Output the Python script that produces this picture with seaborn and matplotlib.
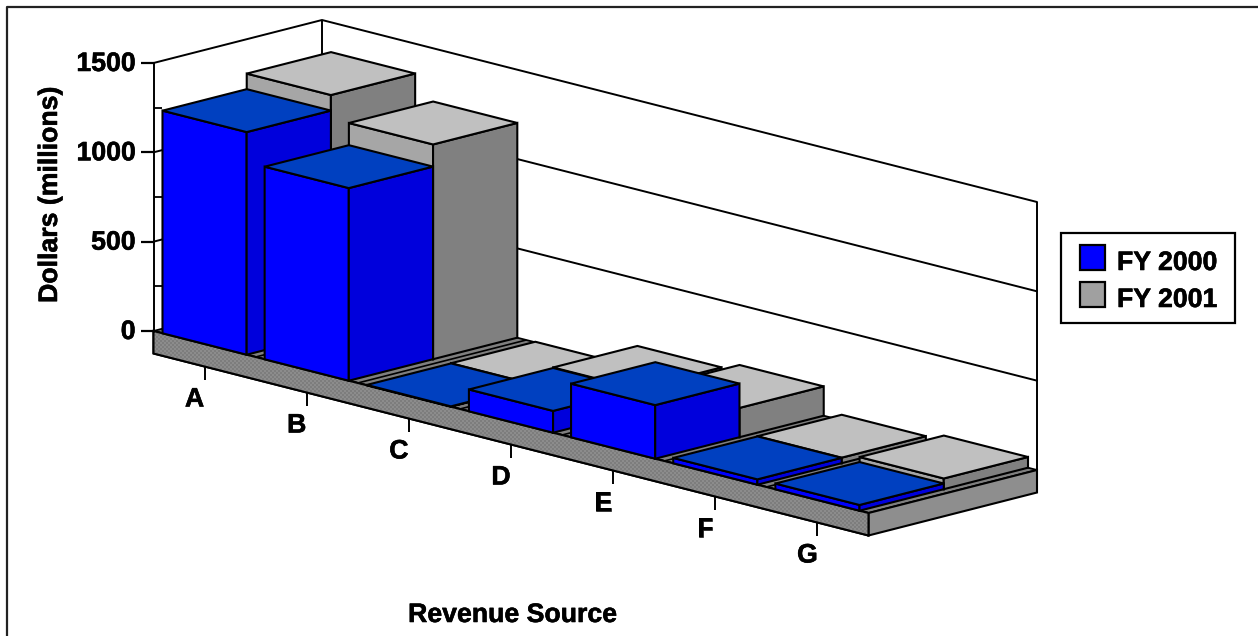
import matplotlib
matplotlib.use("Agg")
import matplotlib.pyplot as plt
from matplotlib.patches import Polygon
import matplotlib.patheffects as pe
import numpy as np
import pandas as pd
import seaborn as sns

categories = ["A", "B", "C", "D", "E", "F", "G"]
fy2000 = [1246, 1078, 2, 122, 300, 30, 32]
fy2001 = [1333, 1202, 3, 125, 164, 31, 60]
series_names = ["FY 2000", "FY 2001"]
value_ticks = [0, 500, 1000, 1500]
minor_ticks = [250, 750, 1250]

sns.set_theme(style="white")
plt.rcParams["font.family"] = ["Liberation Sans", "DejaVu Sans"]

# Oblique projection of the (category, depth, value) box onto the canvas
ORIGIN = np.array([153.5, 331.0])
CAT_VEC = np.array([715.0 / 7, 182.0 / 7])
DEPTH_VEC = np.array([168.5, -43.0])
PX_PER_UNIT = 268.0 / 1500
PLATE = 22.5
BAR_WIDTH = 0.824
EDGE = "black"
FONT = 19.2
HEAVY = [pe.withStroke(linewidth=0.4, foreground="black")]


def project(cat, depth, value=0.0):
    p = ORIGIN + cat * CAT_VEC + depth * DEPTH_VEC
    return p[0], p[1] - value * PX_PER_UNIT


fig = plt.figure(figsize=(12.58, 6.36), dpi=100)
ax = fig.add_axes([0, 0, 1, 1])
ax.set_xlim(0, 1258)
ax.set_ylim(636, 0)
ax.axis("off")

n = len(categories)
top = value_ticks[-1]


def poly(points, color, lw=1.5, z=2):
    xs, ys = zip(*points)
    ax.fill(xs, ys, facecolor=color, edgecolor=EDGE, linewidth=lw,
            joinstyle="miter", zorder=z)


def seg(a, b, lw=1.4, color=EDGE, z=1):
    ax.plot([a[0], b[0]], [a[1], b[1]], color=color, lw=lw,
            solid_capstyle="butt", zorder=z)


def label(x, y, text, z=6, **kw):
    ax.text(x, y, text, va="center", fontsize=FONT, fontweight="bold",
            color="black", path_effects=HEAVY, zorder=z, **kw)


# Outer border of the chart area: left and top only
ax.plot([6.5, 6.5, 1258], [636, 7, 7], color="#222222", lw=1.6, zorder=0)

# Walls and their gridlines
wall_rows = []
for v in value_ticks[1:]:
    for x, y in [project(0, 0, v), project(0, 1, v), project(n, 1, v)]:
        wall_rows.append({"x": x, "y": y, "level": v})
wall = pd.DataFrame(wall_rows)
for level, part in wall.groupby("level"):
    sns.lineplot(data=part, x="x", y="y", sort=False, estimator=None,
                 color=EDGE, lw=1.4, ax=ax, legend=False, zorder=1)
seg(project(0, 0, 0), project(0, 0, top))
seg(project(0, 1, 0), project(0, 1, top))
seg(project(n, 1, 0), project(n, 1, top))
ax.set_xlabel("")
ax.set_ylabel("")

# Base plate under the bars
floor = [project(0, 0), project(0, 1), project(n, 1), project(n, 0)]
poly(floor, "#7f7f7f", lw=1.3, z=1.5)
fl, fr, br = project(0, 0), project(n, 0), project(n, 1)
front_plate = [fl, fr, (fr[0], fr[1] + PLATE), (fl[0], fl[1] + PLATE)]
poly(front_plate, "#868686", lw=1.5, z=1.6)
poly([fr, br, (br[0], br[1] + PLATE), (fr[0], fr[1] + PLATE)], "#8e8e8e", lw=1.5, z=1.6)
for c in range(1, n):
    seg(project(c, 0), project(c, 1), lw=1.2, z=1.55)

# Fine checker fill on the front of the plate
yy, xx = np.indices((636, 1258))
checker = ((xx // 2 + yy // 2) % 2).astype(float)
img = ax.imshow(checker, extent=(0, 1258, 636, 0), cmap="gray", vmin=-8.17, vmax=8.5,
                interpolation="nearest", aspect="auto", zorder=1.61)
img.set_clip_path(Polygon(front_plate, transform=ax.transData))
ax.set_xlim(0, 1258)
ax.set_ylim(636, 0)
ax.plot(*zip(*(front_plate + front_plate[:1])), color=EDGE, lw=1.5, zorder=1.62)

# Value axis ticks
for v in value_ticks:
    x, y = project(0, 0, v)
    seg((x - 12.5, y), (x, y), lw=1.6, z=3)
    label(x - 18, y + 1, str(v), ha="right")
for v in minor_ticks:
    x, y = project(0, 0, v)
    seg((x, y), (x + 8, y), lw=1.3, z=1.2)

# Boxes, back series first inside each category so the front one overlaps it
palette = {
    "FY 2000": {"front": "#0000ff", "side": "#0000dc", "top": "#0040c0"},
    "FY 2001": {"front": "#a6a6a6", "side": "#808080", "top": "#c0c0c0"},
}
margin = (1 - BAR_WIDTH) / 2
z = 2.0
for c in range(n):
    for name, vals, d0 in [(series_names[1], fy2001, 0.5), (series_names[0], fy2000, 0.0)]:
        v = vals[c]
        d1 = d0 + 0.5
        c0, c1 = c + margin, c + 1 - margin
        col = palette[name]
        z += 0.01
        poly([project(c0, d0, 0), project(c1, d0, 0), project(c1, d0, v), project(c0, d0, v)],
             col["front"], z=z)
        poly([project(c1, d0, 0), project(c1, d1, 0), project(c1, d1, v), project(c1, d0, v)],
             col["side"], z=z)
        poly([project(c0, d0, v), project(c1, d0, v), project(c1, d1, v), project(c0, d1, v)],
             col["top"], z=z)

# Category ticks and labels along the front edge of the plate
for c, name in enumerate(categories):
    x, y = project(c + 0.5, 0)
    y += PLATE
    seg((x, y), (x, y + 13), lw=1.4, z=3)
    label(x - 10, y + 33, name, ha="center")

label(50, 195, "Dollars (millions)", rotation=90, ha="center")
label(512, 615, "Revenue Source", ha="center")

# Legend box
poly([(1061, 233), (1234.5, 233), (1234.5, 322.5), (1061, 322.5)], "white", lw=1.6, z=4)
for name, y0, color in [("FY 2000", 245, "#0000ff"), ("FY 2001", 282, "#a0a0a0")]:
    poly([(1079.5, y0), (1105, y0), (1105, y0 + 25), (1079.5, y0 + 25)], color, lw=1.6, z=5)
    label(1117, y0 + 18, name, ha="left")

fig.savefig("out.png", dpi=100, facecolor="white")
